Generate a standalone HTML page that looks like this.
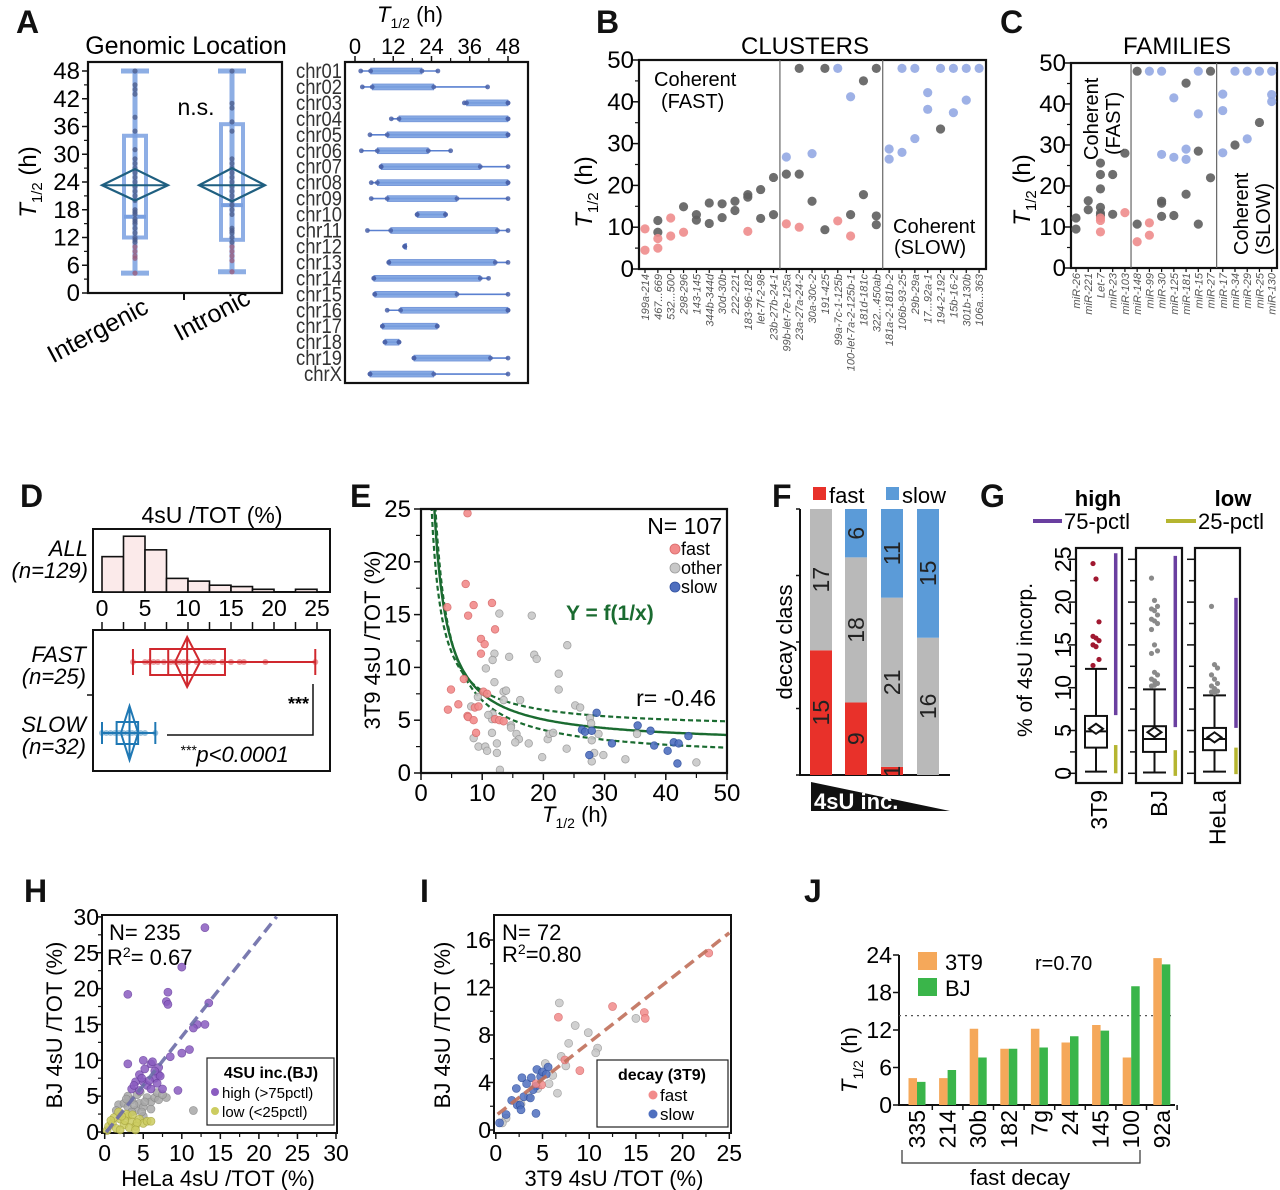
<!DOCTYPE html>
<html><head><meta charset="utf-8">
<style>
html,body{margin:0;padding:0;background:#fff;}
svg{display:block;font-family:"Liberation Sans",Arial,sans-serif;}
</style></head>
<body>
<svg id="fig" width="1280" height="1190" viewBox="0 0 1280 1190" xmlns="http://www.w3.org/2000/svg">
<rect x="0" y="0" width="1280" height="1190" fill="#fff"/>
<!-- panel letters -->
<g font-weight="bold" font-size="32" fill="#111">
<text x="16" y="33">A</text>
<text x="596" y="33">B</text>
<text x="1000" y="33">C</text>
<text x="20" y="507">D</text>
<text x="350" y="507">E</text>
<text x="772" y="507">F</text>
<text x="980" y="507">G</text>
<text x="24" y="902">H</text>
<text x="420" y="902">I</text>
<text x="804" y="902">J</text>
</g>
<!-- A static text -->
<text x="186" y="54" font-size="25" text-anchor="middle">Genomic Location</text>
<text x="196" y="115" font-size="23" text-anchor="middle">n.s.</text>
<text transform="translate(36,182) rotate(-90)" font-size="24" text-anchor="middle"><tspan font-style="italic">T</tspan><tspan font-size="15" dy="6">1/2</tspan><tspan dy="-6"> (h)</tspan></text>
<text transform="translate(150,312) rotate(-28)" font-size="25" text-anchor="end">Intergenic</text>
<text transform="translate(252,303) rotate(-28)" font-size="25" text-anchor="end">Intronic</text>
<text x="410" y="22" font-size="22" text-anchor="middle"><tspan font-style="italic">T</tspan><tspan font-size="14" dy="6">1/2</tspan><tspan dy="-6"> (h)</tspan></text>
<!-- B static -->
<text x="805" y="54" font-size="24" text-anchor="middle">CLUSTERS</text>
<text transform="translate(592,192) rotate(-90)" font-size="24" text-anchor="middle"><tspan font-style="italic">T</tspan><tspan font-size="15" dy="6">1/2</tspan><tspan dy="-6"> (h)</tspan></text>
<text x="654" y="86" font-size="20">Coherent</text>
<text x="661" y="108" font-size="20">(FAST)</text>
<text x="893" y="233" font-size="20">Coherent</text>
<text x="894" y="254" font-size="20">(SLOW)</text>
<!-- C static -->
<text x="1177" y="54" font-size="24" text-anchor="middle">FAMILIES</text>
<text transform="translate(1030,190) rotate(-90)" font-size="24" text-anchor="middle"><tspan font-style="italic">T</tspan><tspan font-size="15" dy="6">1/2</tspan><tspan dy="-6"> (h)</tspan></text>
<text transform="translate(1098,160) rotate(-90)" font-size="20">Coherent</text>
<text transform="translate(1120,155) rotate(-90)" font-size="20">(FAST)</text>
<text transform="translate(1248,255) rotate(-90)" font-size="20">Coherent</text>
<text transform="translate(1270,255) rotate(-90)" font-size="20">(SLOW)</text>
<!-- D static -->
<text x="212" y="523" font-size="23" text-anchor="middle">4sU /TOT  (%)</text>
<g font-size="22" font-style="italic" text-anchor="end">
<text x="88" y="556">ALL</text>
<text x="88" y="578">(n=129)</text>
<text x="86" y="662">FAST</text>
<text x="86" y="684">(n=25)</text>
<text x="86" y="732">SLOW</text>
<text x="86" y="754">(n=32)</text>
</g>
<text x="309" y="710" font-size="18" text-anchor="end" font-weight="bold">***</text>
<text x="180" y="762" font-size="22" font-style="italic"><tspan font-size="14" dy="-7">***</tspan><tspan dy="7">p&lt;0.0001</tspan></text>
<!-- E static -->
<text x="722" y="534" font-size="23" text-anchor="end">N= 107</text>
<text x="566" y="620" font-size="21" font-weight="bold" fill="#1a6b30">Y = f(1/x)</text>
<text x="716" y="706" font-size="23" text-anchor="end">r= -0.46</text>
<text transform="translate(380,640) rotate(-90)" font-size="22" text-anchor="middle">3T9 4sU /TOT  (%)</text>
<text x="575" y="822" font-size="22" text-anchor="middle"><tspan font-style="italic">T</tspan><tspan font-size="14" dy="6">1/2</tspan><tspan dy="-6"> (h)</tspan></text>
<!-- F static -->
<text transform="translate(792,642) rotate(-90)" font-size="22" text-anchor="middle">decay class</text>
<rect x="813" y="487" width="13" height="13" fill="#e8312a"/>
<text x="829" y="503" font-size="22">fast</text>
<rect x="886" y="487" width="13" height="13" fill="#5b9bd8"/>
<text x="902" y="503" font-size="22">slow</text>
<polygon points="811,782 811,811 950,811" fill="#111"/>
<text x="814" y="809" font-size="22" font-weight="bold" fill="#fff">4sU inc.</text>
<!-- G static -->
<text x="1098" y="506" font-size="22" font-weight="bold" text-anchor="middle">high</text>
<text x="1233" y="506" font-size="22" font-weight="bold" text-anchor="middle">low</text>
<line x1="1033" y1="521" x2="1062" y2="521" stroke="#6a3fa0" stroke-width="4"/>
<text x="1064" y="529" font-size="22">75-pctl</text>
<line x1="1166" y1="521" x2="1196" y2="521" stroke="#b5b530" stroke-width="4"/>
<text x="1198" y="529" font-size="22">25-pctl</text>
<text transform="translate(1032,660) rotate(-90)" font-size="21" text-anchor="middle">% of 4sU incorp.</text>
<!-- H static -->
<text x="109" y="940" font-size="22">N= 235</text>
<text x="107" y="965" font-size="22">R<tspan font-size="14" dy="-8">2</tspan><tspan dy="8">= 0.67</tspan></text>
<text transform="translate(62,1025) rotate(-90)" font-size="22" text-anchor="middle">BJ 4sU /TOT (%)</text>
<text x="218" y="1186" font-size="22" text-anchor="middle">HeLa 4sU /TOT (%)</text>
<rect x="207" y="1058" width="127" height="67" fill="#fff" stroke="#222" stroke-width="1.2"/>
<text x="271" y="1078" font-size="16" font-weight="bold" text-anchor="middle">4SU inc.(BJ)</text>
<circle cx="215" cy="1092" r="4" fill="#8a5cc0"/>
<text x="222" y="1098" font-size="15">high (&gt;75pctl)</text>
<circle cx="215" cy="1111" r="4" fill="#cccc60"/>
<text x="222" y="1117" font-size="15">low (&lt;25pctl)</text>
<!-- I static -->
<text x="502" y="940" font-size="22">N= 72</text>
<text x="502" y="962" font-size="22">R<tspan font-size="14" dy="-8">2</tspan><tspan dy="8">=0.80</tspan></text>
<text transform="translate(450,1025) rotate(-90)" font-size="22" text-anchor="middle">BJ 4sU /TOT (%)</text>
<text x="614" y="1186" font-size="22" text-anchor="middle">3T9 4sU /TOT (%)</text>
<rect x="597" y="1060" width="131" height="67" fill="#fff" stroke="#222" stroke-width="1.2"/>
<text x="662" y="1080" font-size="16" font-weight="bold" text-anchor="middle">decay (3T9)</text>
<circle cx="653" cy="1095" r="4.5" fill="#f28b8b"/>
<text x="660" y="1101" font-size="17">fast</text>
<circle cx="653" cy="1114" r="4.5" fill="#4f6fbf"/>
<text x="660" y="1120" font-size="17">slow</text>
<!-- J static -->
<text transform="translate(857,1060) rotate(-90)" font-size="22" text-anchor="middle"><tspan font-style="italic">T</tspan><tspan font-size="14" dy="6">1/2</tspan><tspan dy="-6"> (h)</tspan></text>
<rect x="918" y="952" width="19" height="18" fill="#f5a85a"/>
<text x="945" y="970" font-size="22">3T9</text>
<rect x="918" y="978" width="19" height="18" fill="#3ab54a"/>
<text x="945" y="996" font-size="22">BJ</text>
<text x="1035" y="970" font-size="20">r=0.70</text>
<path d="M902,1150 V1163 H1140 V1150" fill="none" stroke="#333" stroke-width="1.2"/>
<text x="1020" y="1185" font-size="22" text-anchor="middle">fast decay</text>
</svg>
<script>
// ---------- data ----------
// Panel A (left)
const aCats = ['Intergenic', 'Intronic'];
const aMin = [4.3, 4.6], aQ1 = [12, 11.5], aMed = [16.5, 19], aQ3 = [34, 36.5], aMax = [48, 48];
const aMean = [23.3, 23.3], aCiLo = [20, 19.8], aCiHi = [26.8, 27];
const aDotsInter = [4.3,7.5,8,9,10,11,11.5,12,13,14,15,15.5,16,17,17.5,18,20,21,22,23,24,25,26,27,28,29,31,35,38,43,44,45,48];
const aDotsIntra = [4.6,7,8,9,10,11,12,13,13.5,14,17,18,19,20,21,22,23,24,25,26,27,28,29,35,37,40,41,48];
const aTicks = [0,6,12,18,24,30,36,42,48];
// Panel A (right)
const chrNames = ['chr01','chr02','chr03','chr04','chr05','chr06','chr07','chr08','chr09','chr10','chr11','chr12','chr13','chr14','chr15','chr16','chr17','chr18','chr19','chrX'];
const chrMin = [1.8,2.3,34.3,11.4,4.7,2,8.2,5.1,5.1,19.5,3.9,15.6,10.6,5.9,6.2,10.1,8.6,9.4,18.5,4.7];
const chrQ1  = [4.9,5.4,35,13.8,10.1,7,8.2,7,10.1,19.5,11.2,15.6,10.6,5.9,6.2,14.3,8.6,9.4,18.5,4.7];
const chrQ3  = [21,24.7,48,48,48,23,39.3,48,32,28.4,44.7,15.6,44,39.3,32,48,25.8,13.8,42.5,24.7];
const chrMax = [26,41.6,48,48,48,30,48,48,48,28.4,48,15.6,48,41.9,48,48,25.8,13.8,48,48];
const chrTicks = [0,12,24,36,48];
// Panel B
const bLabels = ['199a-214','467...669','532...500','298-296','143-145','344b-344d','30d-30b','222-221','183-96-182','let-7f-2-98','23b-27b-24-1','99b-let-7e-125a','23a-27a-24-2','30a-30c-2','191-425','99a-7c-1-125b','100-let-7a-2-125b-1','181d-181c','322...450ab','181a-2-181b-2','106b-93-25','29b-29a','17...92a-1','194-2-192','15b-16-2','301b-130b','106a...363'];
const bFast = [[9.6,4.5],[7.3,5],[12.2,7.9],[8.8],[],[],[],[],[9],[],[],[10.8],[10],[],[],[11.5],[7.9],[],[],[],[],[],[],[],[],[],[]];
const bOther = [[],[11.6,8.8],[],[14.9],[13,11.7],[15.8,10.9],[15.6,12.3],[16.2,14],[17.8,17.2],[19,12.1],[21.9,13],[22.7],[48,22.7],[16.2],[48,9.4],[],[13],[45,17.8],[48,12.7,10.6],[],[],[],[],[33.5],[],[],[]];
const bSlow = [[],[],[],[],[],[],[],[],[],[],[],[26.8],[],[27.6],[],[48],[41.2],[],[],[28.7,26.3],[48,27.9],[48,31.2],[42.2,38.2],[48],[48,37.4],[48,40.4],[48]];
const bTicks = [0,10,20,30,40,50];
// Panel C
const cLabels = ['miR-26','miR-221','Let-7','miR-23','miR-103','miR-148','miR-99','miR-30','miR-125','miR-181','miR-15','miR-27','miR-17','miR-34','miR-29','miR-25','miR-130'];
const cFast = [[],[],[12.2,11.6,8.8],[],[13.5],[6.4],[11,8],[],[],[],[],[],[],[],[],[],[]];
const cOther = [[12.2,9.5],[16.4,14.2],[25.6,22.8,19.3,14.8,13.4,12.8],[22.8,13.1],[28],[48,10.7],[],[16.3,15.8,12.6],[12.8],[45.1,18],[28.5,10.7],[48,22],[],[30],[],[35.5],[]];
const cSlow = [[],[],[],[],[],[],[48],[48,27.7],[41.5,27],[29,26.5],[48,37.6],[],[42.4,38.4,28.1],[48],[48,31.5],[48],[48,42.3,40.6]];
// Panel D
const dBinStart = [0,2.5,5,7.5,10,12.5,15,17.5,20,22.5];
const dCounts = [26,41,31,10,8,5,4,2,0,2];
const dTicks = [0,5,10,15,20,25];
const dGroups = ['FAST','SLOW'];
const dMin = [3.6,0], dQ1 = [5.6,1.7], dMed = [7.7,3.2], dQ3 = [14.3,4.2], dMax = [24.8,6.2];
const dMean = [9.9,3.2], dMeanLo = [8.5,2.2], dMeanHi = [11.4,4.2];
const dFastDots = [3.6,5,5.5,6,6.5,7.2,8,8.5,9,9.5,10,11,12,12.5,13,14,15,16,16.5,19,24.8];
const dSlowDots = [0,0.5,1,1.5,2,2.5,3,3.5,4,4.5,5,6.2];
// Panel E
const eFastX = [7.6,4.3,7.3,7.7,8.6,11.6,12.1,9.8,10.4,9.8,4.9,4.4,6.1,7.0,7.6,7.7,8.6,9.0,8.8,9.4,10.2,10.8,12.1,12.8,13.5];
const eFastY = [24.6,15.7,17.9,14.9,15.9,16.1,13.6,12.7,12.2,11.3,7.9,6.0,6.5,8.9,5.4,5.3,5.0,3.8,6.2,6.3,7.7,7.5,5.1,5.0,4.9];
const eOtherX = [12.8,18.1,12.0,11.7,14.4,18.5,18.9,23.9,10.6,12.0,22.5,22.5,13.5,13.9,16.2,9.3,8.2,11.7,13.5,14.7,14.7,15.6,16.0,15.4,17.6,8.6,9.4,10.5,10.8,12.4,12.4,12.9,11.6,19.8,20.7,21.0,21.6,23.8,25.2,26.0,27.6,27.8,27.9,28.3,27.9,29.0,29.8,33.4,35.3,45.0,11.6,11.0];
const eOtherY = [15.1,14.9,11.3,10.7,11.0,11.2,10.8,12.1,9.9,8.6,9.4,7.9,7.7,7.8,6.9,7.2,6.3,5.6,6.9,4.5,4.3,3.7,3.2,2.9,2.8,3.3,2.5,2.5,2.1,2.8,1.9,0.3,3.8,1.5,3.2,3.7,3.8,2.3,6.4,6.2,5.2,4.7,3.1,1.9,1.1,3.7,1.7,1.3,3.7,1.0,5.1,5.5];
const eSlowX = [28.7,26.3,26.8,27.9,27.5,31.2,35.4,37.5,38.1,40.3,41.3,42.1,41.9,43.7];
const eSlowY = [5.7,4.1,3.9,4.0,1.7,2.8,4.5,4.0,2.6,2.1,2.9,2.8,0.9,3.5];
const eTicksX = [0,10,20,30,40,50];
const eTicksY = [0,5,10,15,20,25];
const eFitA = [2.63, 4.17, 1.28];   // fit, upper band, lower band intercepts
const eFitB = [48.75, 36.25, 56];   // 1/x coefficients
// Panel F
const fBars = ['q1','q2','q3','q4'];
const fFast = [15,9,1,0];
const fOther = [17,18,21,16];
const fSlow = [0,6,11,15];
// Panel G
const gCells = ['3T9','BJ','HeLa'];
const gWlo = [0.2,0.1,0.2], gQ1 = [3.0,2.5,2.7], gMed = [4.9,4.0,4.0], gQ3 = [6.7,5.5,5.3], gWhi = [12.2,9.8,9.1], gMean = [5.2,4.8,4.2];
const gOut3T9 = [24.5,22.7,17.7,16,15.8,15.5,15,14.8,13.3,12.6];
const gOutBJ = [22.8,20.2,19.5,19.2,19.0,18.5,18.0,17.8,17.5,16.8,15,14.3,14,11.8,11.5,11,10.8,10.5,10.2,10.3];
const gOutHeLa = [19.5,12.7,12.3,11.5,11,10.5,10.2,9.9,9.6,9.5,9.4];
const gHighLo = [6.8,5.4,5.3], gHighHi = [25.7,25.4,20.5];
const gLowLo = [0,-0.3,-0.1], gLowHi = [3.3,2.7,3.0];
const gTicks = [0,5,10,15,20,25];
// Panel H
const hHighX = [13,10,3,8.2,8,8.2,13.5,12,11.5,13,10,11,8.5,3,5,6,7,6.5,4.5,4,5,5.5,6,3.5,4.5,6.8,7.5,9.5,5.2,6.2,7,4.8,3.8,5.8,6.5,7.2];
const hHighY = [28.5,23,19.2,19.5,18.2,17.8,18,15,14.5,15,11,11.5,10.5,9.5,10,9.5,8,7.5,8,7,7,6.5,6,6,5.8,6.8,6,5.8,8.8,9.8,9,7.5,6.5,7.2,8.5,7.8];
const hMidX = [11.5,1.8,2.5,3,3.5,4,4.5,5,5.5,6,6.5,3,4.2,2,3.5,5,6,7,8,4.8,2.8,1.5,6.8,5.2,3.8,4.6,7.5];
const hMidY = [3,3.8,4,3.5,4.5,3,4,3.5,4.8,4.2,4.8,5,5.2,2.5,2.8,2.2,3.2,4.5,4.8,2.8,4.6,3,5.5,4.2,3.8,5.6,5.2];
const hLowX = [0.3,0.5,1,1.5,2,2.5,3,3.5,4,4.5,5,5.5,2,1.2,3.2,4.2,0.8,2.8,4,6,1.8,2.6,3.6,2.2];
const hLowY = [0.2,0.8,1.2,0.5,1.8,1,2.2,1.5,0.8,1.8,1.2,1.5,0.3,2,0.6,1.3,1.6,2.5,0.3,1.5,2.8,1.6,2.4,2.2];
const hTicks = [0,5,10,15,20,25,30];
const hFit = [1.36, -0.3]; // slope, intercept
// Panel I
const iFastX = [22.8,12.5,15.9,16,6.7,9,4.9,7.4,4.3];
const iFastY = [14.9,10.4,9.9,9.4,9.5,5,3.8,5.9,3.9];
const iOtherX = [6.8,15,8.5,9.9,7.8,10.9,10.7,7,7.5,6.6,5.3,5.7,1.1,0.7,3.5,2.7,6.1,4.5];
const iOtherY = [10.7,9.4,8.8,8.2,7.3,6.9,6.5,6.2,5.4,3.1,5.6,3.9,1,0.6,2.8,2.2,4.6,3.5];
const iSlowX = [4.4,5.6,2.8,3.8,3.3,4.3,4.8,4,3,3.7,1.7,2.3,2.6,4.3,2.7,1.1,0.4,2.2,5,5.4];
const iSlowY = [5.1,5.3,4.4,4.4,3.9,3.7,4.5,3.4,2.8,2.7,2.5,2.1,2.1,1.4,1.7,1.3,0.6,3.5,4.9,4.7];
const iTicksX = [0,5,10,15,20,25];
const iTicksY = [0,4,8,12,16];
const iFit = [0.616, 1.2];
// Panel J
const jCats = ['335','214','30b','182','7g','24','145','100','92a'];
const j3T9 = [4.3,4.3,12.2,9,12.2,10,12.8,7.6,23.5];
const jBJ = [3.7,5.6,7.6,9,9.2,11,11.9,19,22.5];
const jTicks = [0,6,12,18,24];
const jThreshold = [14.3];

// ---------- helpers ----------
const NS = 'http://www.w3.org/2000/svg';
const svg = document.getElementById('fig');
function mk(tag, a, parent) {
  const e = document.createElementNS(NS, tag);
  for (const k in a) e.setAttribute(k, a[k]);
  (parent || svg).appendChild(e);
  return e;
}
function tx(s, a, parent) { const e = mk('text', a, parent); e.textContent = s; return e; }
function grp(name) {
  const g = mk('g', {});
  
  
  return g;
}

// ---------- Panel A left ----------
(function(){
  const g = grp('panel-a-boxplot');
  const yA = v => 293 - v * 4.625;
  const xA = i => [135, 232][i];
  const fr = mk('rect', {x:88,y:62,width:194,height:231,fill:'none',stroke:'#111','stroke-width':2.2}, g);
  
  
  aTicks.forEach(t => {
    const l = mk('line', {x1:82,x2:88,y1:yA(t),y2:yA(t),stroke:'#111','stroke-width':1.5}, g);
    
    
    if (t < 48) {
      const m = mk('line', {x1:84,x2:88,y1:yA(t+3),y2:yA(t+3),stroke:'#111','stroke-width':1.2}, g);
      
      
    }
    const lb = tx(String(t), {x:80,y:yA(t)+8,'font-size':24,'text-anchor':'end'}, g);
    
    
  });
  const xt = mk('line', {x1:184,x2:184,y1:293,y2:300,stroke:'#111','stroke-width':2}, g);
  
  
  aCats.forEach((c, i) => {
    const cx = xA(i), bc = '#7aa0e0';
    const w = mk('line', {x1:cx,x2:cx,y1:yA(aMin[i]),y2:yA(aMax[i]),stroke:bc,'stroke-width':5,opacity:0.85}, g);
    
    
    [aMin[i], aMax[i]].forEach(v => {
      const cap = mk('line', {x1:cx-14,x2:cx+14,y1:yA(v),y2:yA(v),stroke:bc,'stroke-width':5,opacity:0.85}, g);
      
      
    });
    const b = mk('rect', {x:cx-11,y:yA(aQ3[i]),width:22,height:yA(aQ1[i])-yA(aQ3[i]),fill:'none',stroke:bc,'stroke-width':4,opacity:0.85}, g);
    
    
    const md = mk('line', {x1:cx-11,x2:cx+11,y1:yA(aMed[i]),y2:yA(aMed[i]),stroke:bc,'stroke-width':4}, g);
    
    
    const dots = i === 0 ? aDotsInter : aDotsIntra;
    dots.forEach(v => {
      const d = mk('circle', {cx:cx,cy:yA(v),r:2.6,fill:v < 11 ? '#9a5a7a' : '#4a5a8a',opacity:0.75}, g);
      
      
    });
    const dm = mk('polygon', {points:`${cx-33},${yA(aMean[i])} ${cx},${yA(aCiHi[i])} ${cx+33},${yA(aMean[i])} ${cx},${yA(aCiLo[i])}`,fill:'none',stroke:'#1f5f80','stroke-width':2.2}, g);
    
    
    const ml = mk('line', {x1:cx-33,x2:cx+33,y1:yA(aMean[i]),y2:yA(aMean[i]),stroke:'#1f5f80','stroke-width':2}, g);
    
    
  });
})();

// ---------- Panel A right ----------
(function(){
  const g = grp('panel-a-chromosomes');
  const xR = v => 355 + v * 3.1875;
  const yR = i => 71 + i * 15.95;
  const fr = mk('rect', {x:345,y:62,width:183,height:321,fill:'none',stroke:'#111','stroke-width':2.2}, g);
  
  
  chrTicks.forEach(t => {
    const l = mk('line', {x1:xR(t),x2:xR(t),y1:56,y2:62,stroke:'#111','stroke-width':1.5}, g);
    
    
    if (t < 48) {
      const m = mk('line', {x1:xR(t+6),x2:xR(t+6),y1:58,y2:62,stroke:'#111','stroke-width':1.2}, g);
      
      
    }
    const lb = tx(String(t), {x:xR(t),y:54,'font-size':22,'text-anchor':'middle'}, g);
    
    
  });
  chrNames.forEach((c, i) => {
    const y = yR(i);
    const lb = tx(c, {x:342,y:y+7,'font-size':21,'text-anchor':'end',fill:'#333',textLength:c.length === 4 ? 38 : 46,lengthAdjust:'spacingAndGlyphs'}, g);
    
    
    const ln = mk('line', {x1:xR(chrMin[i]),x2:xR(chrMax[i]),y1:y,y2:y,stroke:'#5a80d0','stroke-width':1.6}, g);
    
    
    const bx = mk('rect', {x:xR(chrQ1[i]),y:y-3,width:Math.max(2,xR(chrQ3[i])-xR(chrQ1[i])),height:6,fill:'#7aa0e0',stroke:'#5a80d0','stroke-width':0.6,opacity:0.9}, g);
    
    
    [chrMin[i], chrQ1[i], chrQ3[i], chrMax[i]].forEach(v => {
      const d = mk('circle', {cx:xR(v),cy:y,r:2.4,fill:'#4a62a8',opacity:0.85}, g);
      
      
    });
  });
})();

// ---------- Panels B and C ----------
function dotPanel(pre, labels, fast, other, slow, x0, dx, left, right, top, bottom, seps) {
  const g = grp('panel-' + pre + '-dotplot');
  const y = v => bottom - v * (bottom - top) / 50;
  const x = i => x0 + i * dx;
  const fr = mk('rect', {x:left,y:top,width:right-left,height:bottom-top,fill:'none',stroke:'#111','stroke-width':2.2}, g);
  
  
  seps.forEach(s => {
    const l = mk('line', {x1:x(s),x2:x(s),y1:top,y2:bottom,stroke:'#666','stroke-width':1.2}, g);
    
    
  });
  bTicks.forEach(t => {
    const l = mk('line', {x1:left-6,x2:left,y1:y(t),y2:y(t),stroke:'#111','stroke-width':1.5}, g);
    
    
    if (t < 50) {
      const m = mk('line', {x1:left-4,x2:left,y1:y(t+5),y2:y(t+5),stroke:'#111','stroke-width':1.2}, g);
      
      
    }
    const lb = tx(String(t), {x:left-5,y:y(t)+8,'font-size':24,'text-anchor':'end'}, g);
    
    
  });
  labels.forEach((lab, i) => {
    const tk = mk('line', {x1:x(i),x2:x(i),y1:bottom,y2:bottom+4,stroke:'#111','stroke-width':1.2}, g);
    
    
    const lb = tx(lab, {transform:`translate(${x(i)+4},${bottom+5}) rotate(-90)`,'font-size':11,'font-style':'italic','text-anchor':'end',fill:'#555'}, g);
    
    
    const sets = [[other[i], '#5e5e5e'], [fast[i], '#ee8c8c'], [slow[i], '#93a9e3']];
    sets.forEach(([vals, col]) => vals.forEach(v => {
      const d = mk('circle', {cx:x(i),cy:y(v),r:4.6,fill:col,opacity:0.9}, g);
      
      
    }));
  });
}
dotPanel('b', bLabels, bFast, bOther, bSlow, 645, 12.85, 639, 986, 60, 269, [10.5, 18.5]);
dotPanel('c', cLabels, cFast, cOther, cSlow, 1076, 12.23, 1071, 1277, 63, 268, [4.5, 11.5]);

// ---------- Panel D ----------
(function(){
  const g = grp('panel-d');
  const xD = v => 102 + v * 8.6;
  const yH = c => 592 - c * 1.36;
  const hf = mk('rect', {x:93,y:529,width:237,height:63,fill:'none',stroke:'#111','stroke-width':2}, g);
  
  
  dBinStart.forEach((b, i) => {
    if (dCounts[i] <= 0) return;
    const r = mk('rect', {x:xD(b),y:yH(dCounts[i]),width:xD(b+2.5)-xD(b),height:592-yH(dCounts[i]),fill:'#fbeaea',stroke:'#111','stroke-width':1.6}, g);
    
    
  });
  dTicks.forEach(t => {
    const lb = tx(String(t), {x:xD(t),y:616,'font-size':23,'text-anchor':'middle'}, g);
    
    
  });
  for (let v = 0; v <= 25; v += 2.5) {
    const l = mk('line', {x1:xD(v),x2:xD(v),y1:622,y2:630,stroke:'#111','stroke-width':1.5}, g);
    
    
  }
  const bf = mk('rect', {x:93,y:630,width:237,height:141,fill:'none',stroke:'#111','stroke-width':2}, g);
  
  
  const mt = mk('line', {x1:87,x2:93,y1:695,y2:695,stroke:'#111','stroke-width':1.5}, g);
  
  
  const rows = [662, 733], cols = ['#d0282e', '#1f78b4'];
  dGroups.forEach((name, i) => {
    const y = rows[i], c = cols[i], h = i === 0 ? 13 : 11, dh = i === 0 ? 25 : 27;
    const dots = i === 0 ? dFastDots : dSlowDots;
    dots.forEach(v => {
      const d = mk('circle', {cx:xD(v),cy:y,r:3,fill:c,opacity:0.45}, g);
      
      
    });
    const wl = mk('line', {x1:xD(dMin[i]),x2:xD(dMax[i]),y1:y,y2:y,stroke:c,'stroke-width':2}, g);
    
    
    [dMin[i], dMax[i]].forEach(v => {
      const cap = mk('line', {x1:xD(v),x2:xD(v),y1:y-h,y2:y+h,stroke:c,'stroke-width':2}, g);
      
      
    });
    const b = mk('rect', {x:xD(dQ1[i]),y:y-h,width:xD(dQ3[i])-xD(dQ1[i]),height:2*h,fill:'none',stroke:c,'stroke-width':2}, g);
    
    
    const md = mk('line', {x1:xD(dMed[i]),x2:xD(dMed[i]),y1:y-h,y2:y+h,stroke:c,'stroke-width':2}, g);
    
    
    const dm = mk('polygon', {points:`${xD(dMeanLo[i])},${y} ${xD(dMean[i])},${y-dh} ${xD(dMeanHi[i])},${y} ${xD(dMean[i])},${y+dh}`,fill:'none',stroke:c,'stroke-width':2}, g);
    
    
    const ml = mk('line', {x1:xD(dMean[i]),x2:xD(dMean[i]),y1:y-dh,y2:y+dh,stroke:c,'stroke-width':2}, g);
    
    
  });
  const sig = mk('path', {d:'M167,735 H313 V684',fill:'none',stroke:'#111','stroke-width':1.5}, g);
  
  
})();

// ---------- Panel E ----------
(function(){
  const g = grp('panel-e-scatter');
  const xE = v => 421 + v * 6.12;
  const yE = v => 773 - v * 10.56;
  const clip = mk('clipPath', {id:'eclip'}, g);
  mk('rect', {x:421,y:509,width:306,height:264}, clip);
  eFitA.forEach((a, k) => {
    let d = '';
    for (let x = 1.2; x <= 50.01; x += 0.25) {
      const v = a + eFitB[k] / x;
      d += (d ? 'L' : 'M') + xE(x).toFixed(1) + ',' + yE(v).toFixed(1);
    }
    const p = mk('path', {d:d,fill:'none',stroke:'#1a6b30','stroke-width':k === 0 ? 2.4 : 2.2,'stroke-dasharray':k === 0 ? 'none' : '5,3','clip-path':'url(#eclip)'}, g);
    
    
  });
  const sets = [[eOtherX, eOtherY, '#c8c8c8', '#9a9a9a', 'e-point-other'], [eFastX, eFastY, '#f28b8b', '#d86a6a', 'e-point-fast'], [eSlowX, eSlowY, '#4f6fbf', '#2f4f9f', 'e-point-slow']];
  sets.forEach(([xs, ys, f, s, nm]) => xs.forEach((xv, i) => {
    const c = mk('circle', {cx:xE(xv),cy:yE(ys[i]),r:3.8,fill:f,stroke:s,'stroke-width':0.8,opacity:0.9}, g);
    
    
  }));
  const ax = mk('path', {d:'M421,509 V773 H727 V509 Z',fill:'none',stroke:'#111','stroke-width':2.2}, g);
  
  
  eTicksX.forEach(t => {
    const l = mk('line', {x1:xE(t),x2:xE(t),y1:773,y2:780,stroke:'#111','stroke-width':1.5}, g);
    
    
    if (t < 50) {
      const m = mk('line', {x1:xE(t+5),x2:xE(t+5),y1:773,y2:778,stroke:'#111','stroke-width':1.2}, g);
      
      
    }
    const lb = tx(String(t), {x:xE(t),y:801,'font-size':24,'text-anchor':'middle'}, g);
    
    
  });
  eTicksY.forEach(t => {
    const l = mk('line', {x1:414,x2:421,y1:yE(t),y2:yE(t),stroke:'#111','stroke-width':1.5}, g);
    
    
    if (t < 25) {
      const m = mk('line', {x1:416,x2:421,y1:yE(t+2.5),y2:yE(t+2.5),stroke:'#111','stroke-width':1.2}, g);
      
      
    }
    const lb = tx(String(t), {x:411,y:yE(t)+8,'font-size':24,'text-anchor':'end'}, g);
    
    
  });
  const leg = [['fast', '#f28b8b', '#d86a6a', 549], ['other', '#c8c8c8', '#9a9a9a', 568], ['slow', '#4f6fbf', '#2f4f9f', 587]];
  leg.forEach(([n, f, s, y]) => {
    const c = mk('circle', {cx:675,cy:y,r:5,fill:f,stroke:s,'stroke-width':0.8}, g);
    
    
    const t = tx(n, {x:681,y:y+6,'font-size':18}, g);
    
    
  });
})();

// ---------- Panel F ----------
(function(){
  const g = grp('panel-f-stacked-bars');
  const xs = [810, 845, 881, 917], w = 22, top = 509, bot = 775;
  const ax = mk('path', {d:'M800,509 V775 H950',fill:'none',stroke:'#111','stroke-width':2}, g);
  
  
  [0, 0.25, 0.5, 0.75, 1].forEach(f => {
    const l = mk('line', {x1:796,x2:800,y1:bot-f*(bot-top),y2:bot-f*(bot-top),stroke:'#111','stroke-width':1.5}, g);
    
    
  });
  fBars.forEach((b, i) => {
    const tot = fFast[i] + fOther[i] + fSlow[i];
    const h = v => v / tot * (bot - top);
    let y = bot;
    [[fFast[i], '#e8312a', 'fast'], [fOther[i], '#b9b9b9', 'other'], [fSlow[i], '#5b9bd8', 'slow']].forEach(([v, c, n]) => {
      if (v <= 0) return;
      const hh = h(v);
      const r = mk('rect', {x:xs[i],y:y-hh,width:w,height:hh,fill:c}, g);
      
      
      const cy = y - hh / 2;
      const t = tx(String(v), {transform:`translate(${xs[i]+w/2+8},${cy}) rotate(-90)`,'font-size':23,'text-anchor':'middle',fill:'#222'}, g);
      
      
      y -= hh;
    });
  });
})();

// ---------- Panel G ----------
(function(){
  const g = grp('panel-g-boxplots');
  const frames = [[1076,1122],[1136,1182],[1195,1240]];
  const yG = v => 773.3 - v * 8.56;
  const outs = [gOut3T9, gOutBJ, gOutHeLa];
  const outCol = ['#a01830', '#8a8a8a', '#8a8a8a'];
  const boxX = [[1085,1107],[1143,1166],[1203,1226]];
  const barX = [1115.7, 1175.3, 1236];
  gCells.forEach((c, i) => {
    const [l, r] = frames[i];
    const fr = mk('rect', {x:l,y:548,width:r-l,height:235,fill:'none',stroke:'#111','stroke-width':2.2}, g);
    
    
    for (let v = 0; v <= 25; v += 2.5) {
      const tk = mk('line', {x1:l-(v % 5 === 0 ? 8 : 6),x2:l,y1:yG(v),y2:yG(v),stroke:'#111','stroke-width':1.5}, g);
      
      
    }
    const cl = tx(c, {transform:`translate(${(l+r)/2+8},790) rotate(-90)`,'font-size':23,'text-anchor':'end'}, g);
    
    
    const [bl, br] = boxX[i], cx = (bl + br) / 2;
    const wl = mk('line', {x1:cx,x2:cx,y1:yG(gWlo[i]),y2:yG(gWhi[i]),stroke:'#111','stroke-width':2}, g);
    
    
    [gWlo[i], gWhi[i]].forEach(v => {
      const cap = mk('line', {x1:bl,x2:br,y1:yG(v),y2:yG(v),stroke:'#111','stroke-width':2}, g);
      
      
    });
    const b = mk('rect', {x:bl,y:yG(gQ3[i]),width:br-bl,height:yG(gQ1[i])-yG(gQ3[i]),fill:'#fff',stroke:'#111','stroke-width':2}, g);
    
    
    const md = mk('line', {x1:bl,x2:br,y1:yG(gMed[i]),y2:yG(gMed[i]),stroke:'#111','stroke-width':2}, g);
    
    
    const m = yG(gMean[i]);
    const dm = mk('polygon', {points:`${cx-7},${m} ${cx},${m-5} ${cx+7},${m} ${cx},${m+5}`,fill:'#fff',stroke:'#111','stroke-width':2}, g);
    
    
    outs[i].forEach((v, k) => {
      const o = mk('circle', {cx:cx+((k % 3) - 1) * 3,cy:yG(v),r:2.6,fill:outCol[i]}, g);
      
      
    });
    const hi = mk('line', {x1:barX[i],x2:barX[i],y1:yG(gHighLo[i]),y2:yG(gHighHi[i]),stroke:'#6a3fa0','stroke-width':3.5}, g);
    
    
    const lo = mk('line', {x1:barX[i],x2:barX[i],y1:yG(gLowLo[i]),y2:yG(gLowHi[i]),stroke:'#b5b530','stroke-width':3.5}, g);
    
    
  });
  gTicks.forEach(t => {
    const lb = tx(String(t), {transform:`translate(1071,${yG(t)}) rotate(-90)`,'font-size':23,'text-anchor':'middle'}, g);
    
    
  });
})();

// ---------- Panels H and I ----------
function scatterPanel(pre, box, x0, xs, y0, ys, ticksX, ticksY, minorX, minorY, sets, fit, fitCol, fitEnd) {
  const g = grp('panel-' + pre + '-scatter');
  const X = v => x0 + v * xs, Y = v => y0 - v * ys;
  const [l, t, r, b] = box;
  const lastX = ticksX[ticksX.length - 1], lastY = ticksY[ticksY.length - 1];
  const fr = mk('rect', {x:l,y:t,width:r-l,height:b-t,fill:'none',stroke:'#111','stroke-width':2}, g);
  
  
  sets.forEach(([xv, yv, f, s, nm]) => xv.forEach((x, i) => {
    const c = mk('circle', {cx:X(x),cy:Y(yv[i]),r:4,fill:f,stroke:s,'stroke-width':0.7,opacity:0.85}, g);
    
    
  }));
  const fl = mk('line', {x1:X(0.2),y1:Y(fit[0]*0.2+fit[1]),x2:X(fitEnd),y2:Y(fit[0]*fitEnd+fit[1]),stroke:fitCol,'stroke-width':3.5,'stroke-dasharray':'11,6',opacity:0.9}, g);
  
  
  ticksX.forEach(v => {
    const tk = mk('line', {x1:X(v),x2:X(v),y1:b,y2:b+6,stroke:'#111','stroke-width':1.5}, g);
    
    
    if (v < lastX) {
      const m = mk('line', {x1:X(v+minorX),x2:X(v+minorX),y1:b,y2:b+4,stroke:'#111','stroke-width':1.2}, g);
      
      
    }
    const lb = tx(String(v), {x:X(v),y:b+28,'font-size':23,'text-anchor':'middle'}, g);
    
    
  });
  ticksY.forEach(v => {
    const tk = mk('line', {x1:l-6,x2:l,y1:Y(v),y2:Y(v),stroke:'#111','stroke-width':1.5}, g);
    
    
    if (v < lastY) {
      const m = mk('line', {x1:l-4,x2:l,y1:Y(v+minorY),y2:Y(v+minorY),stroke:'#111','stroke-width':1.2}, g);
      
      
    }
    const lb = tx(String(v), {x:l-3,y:Y(v)+8,'font-size':23,'text-anchor':'end'}, g);
    
    
  });
}
scatterPanel('h', [102,915,337,1133], 104.7, 7.71, 1132, 7.17, hTicks, hTicks, 2.5, 2.5,
  [[hMidX, hMidY, '#a8a8a8', '#888', 'h-point-mid'], [hLowX, hLowY, '#cccc60', '#aaa840', 'h-point-low'], [hHighX, hHighY, '#8a5cc0', '#6a3fa0', 'h-point-high']],
  hFit, '#6c6ca8', 22.3);
scatterPanel('i', [494,915,731,1133], 495.8, 9.34, 1130, 11.875, iTicksX, iTicksY, 2.5, 2,
  [[iOtherX, iOtherY, '#c8c8c8', '#999', 'i-point-other'], [iSlowX, iSlowY, '#4f6fbf', '#2f4f9f', 'i-point-slow'], [iFastX, iFastY, '#f28b8b', '#d86a6a', 'i-point-fast']],
  iFit, '#c0705a', 25);

// ---------- Panel J ----------
(function(){
  const g = grp('panel-j-bars');
  const yJ = v => 1105 - v * 6.25;
  const xJ = i => 917 + i * 30.6;
  const ax = mk('path', {d:'M899,955 V1105 H1175',fill:'none',stroke:'#111','stroke-width':2}, g);
  
  
  const th = mk('line', {x1:899,x2:1175,y1:yJ(jThreshold[0]),y2:yJ(jThreshold[0]),stroke:'#555','stroke-width':1.2,'stroke-dasharray':'2,4'}, g);
  
  
  jTicks.forEach(t => {
    const tk = mk('line', {x1:893,x2:899,y1:yJ(t),y2:yJ(t),stroke:'#111','stroke-width':1.5}, g);
    
    
    const lb = tx(String(t), {x:892,y:yJ(t)+8,'font-size':23,'text-anchor':'end'}, g);
    
    
  });
  jCats.forEach((c, i) => {
    const cx = xJ(i);
    const b1 = mk('rect', {x:cx-8.5,y:yJ(j3T9[i]),width:8.5,height:1105-yJ(j3T9[i]),fill:'#f5a85a'}, g);
    
    
    const b2 = mk('rect', {x:cx,y:yJ(jBJ[i]),width:8.5,height:1105-yJ(jBJ[i]),fill:'#3ab54a'}, g);
    
    
    const tk = mk('line', {x1:cx+15.3,x2:cx+15.3,y1:1105,y2:1110,stroke:'#111','stroke-width':1.5}, g);
    
    
    const lb = tx(c, {transform:`translate(${cx+8},1110) rotate(-90)`,'font-size':23,'text-anchor':'end'}, g);
    
    
  });
})();
</script>
</body></html>
